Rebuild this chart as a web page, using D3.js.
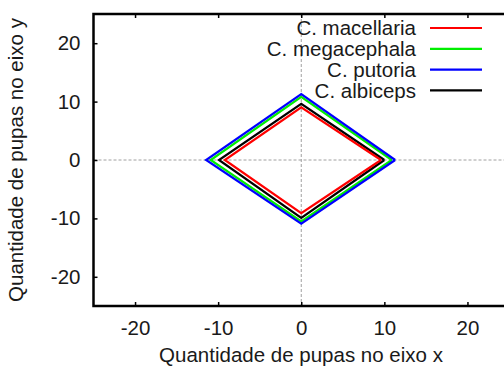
<!DOCTYPE html>
<html>
<head>
<meta charset="utf-8">
<script src="https://cdn.jsdelivr.net/npm/d3@7"></script>
<style>
  body { margin: 0; background: #fff; }
  svg text { font-family: "Liberation Sans", Arial, sans-serif; fill: #1a1a1a; }
</style>
</head>
<body>
<div id="chart"></div>
<script>
var svgWidth = 504;
var svgHeight = 371;

var margin = { top: 14, right: -5, bottom: 65, left: 93.5 };
var width = svgWidth - margin.left - margin.right;
var height = svgHeight - margin.top - margin.bottom;

// series: diamond vertices (right, top, left, bottom)
var seriesNames = ["C. macellaria", "C. megacephala", "C. putoria", "C. albiceps"];
var seriesColors = ["#ff0000", "#00ee00", "#0000ff", "#000000"];
var macellaria = [[9.6, 0], [0, 9.0], [-9.2, 0], [0, -9.1], [9.6, 0]];
var megacephala = [[10.9, 0], [0, 10.8], [-10.9, 0], [0, -10.5], [10.9, 0]];
var putoria = [[11.3, 0], [0, 11.3], [-11.45, 0], [0, -10.9], [11.3, 0]];
var albiceps = [[10.0, 0], [0, 9.6], [-9.9, 0], [0, -9.9], [10.0, 0]];
var drawOrder = [1, 2, 3, 0];  // green, blue, black, red on top
var allSeries = [macellaria, megacephala, putoria, albiceps];

var xTicks = [-20, -10, 0, 10, 20];
var yTicks = [-20, -10, 0, 10, 20];

var fontSize = 20.5;

var svg = d3.select("#chart")
  .append("svg")
  .attr("width", svgWidth)
  .attr("height", svgHeight);

var chartGroup = svg.append("g")
  .attr("transform", `translate(${margin.left}, ${margin.top})`);

var xScale = d3.scaleLinear().domain([-25, 25]).range([0, width]);
var yScale = d3.scaleLinear().domain([-25, 25]).range([height, 0]);

// zero axes, dashed grey
chartGroup.append("line")
  .attr("x1", xScale(0)).attr("x2", xScale(0))
  .attr("y1", 0).attr("y2", height)
  .attr("stroke", "#a0a0a0").attr("stroke-width", 1)
  .attr("stroke-dasharray", "3,2");
chartGroup.append("line")
  .attr("x1", 0).attr("x2", width)
  .attr("y1", yScale(0)).attr("y2", yScale(0))
  .attr("stroke", "#a0a0a0").attr("stroke-width", 1)
  .attr("stroke-dasharray", "3,2");

// axes with inward ticks, plain hyphen minus like gnuplot
var fmt = d => String(d);
var bottomAxis = d3.axisBottom(xScale).tickValues(xTicks).tickSize(-4).tickPadding(14).tickFormat(fmt);
var topAxis = d3.axisTop(xScale).tickValues(xTicks).tickSize(-4).tickFormat("");
var leftAxis = d3.axisLeft(yScale).tickValues(yTicks).tickSize(-4).tickPadding(13).tickFormat(fmt);

var gx = chartGroup.append("g")
  .attr("transform", `translate(0, ${height})`)
  .call(bottomAxis);
var gt = chartGroup.append("g").call(topAxis);
var gy = chartGroup.append("g").call(leftAxis);

[gx, gt, gy].forEach(function(g) {
  g.select(".domain").remove();
  g.selectAll(".tick line").attr("stroke", "#000").attr("stroke-width", 1.5);
  g.selectAll(".tick text").attr("font-size", fontSize).style("fill", "#1a1a1a")
    .style("font-family", "'Liberation Sans', Arial, sans-serif");
});

// frame
chartGroup.append("path")
  .attr("d", `M${width},0 H0 V${height} H${width}`)
  .attr("fill", "none")
  .attr("stroke", "#000")
  .attr("stroke-width", 2.5);

// diamonds
var line = d3.line()
  .x(d => xScale(d[0]))
  .y(d => yScale(d[1]));

drawOrder.forEach(function(i) {
  chartGroup.append("path")
    .datum(allSeries[i])
    .attr("d", line)
    .attr("fill", "none")
    .attr("stroke", seriesColors[i])
    .attr("stroke-width", 2.2)
    .attr("stroke-linejoin", "miter");
});

// legend
var legend = svg.append("g");
seriesNames.forEach(function(name, i) {
  var y = 28 + i * 20.8;
  legend.append("text")
    .attr("x", 416)
    .attr("y", y)
    .attr("dy", "0.35em")
    .attr("text-anchor", "end")
    .attr("font-size", fontSize)
    .text(name);
  legend.append("line")
    .attr("x1", 430).attr("x2", 482)
    .attr("y1", y).attr("y2", y)
    .attr("stroke", seriesColors[i])
    .attr("stroke-width", 2.2);
});

// axis labels
svg.append("text")
  .attr("x", 301)
  .attr("y", 362)
  .attr("text-anchor", "middle")
  .attr("font-size", fontSize)
  .text("Quantidade de pupas no eixo x");

svg.append("text")
  .attr("transform", "translate(23, 160) rotate(-90)")
  .attr("text-anchor", "middle")
  .attr("font-size", fontSize)
  .text("Quantidade de pupas no eixo y");
</script>
</body>
</html>
